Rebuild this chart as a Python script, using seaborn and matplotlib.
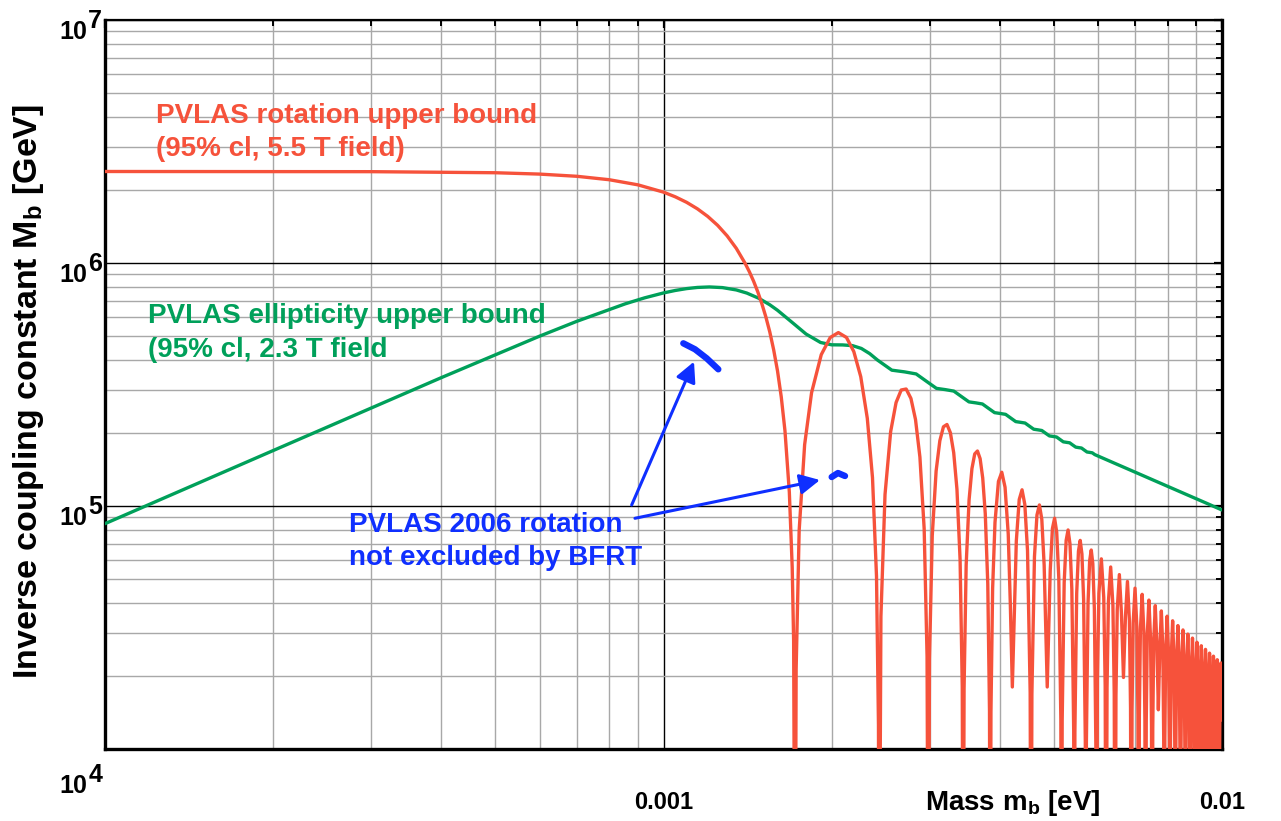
import numpy as np
import matplotlib
matplotlib.use("Agg")
import matplotlib.pyplot as plt
from matplotlib.ticker import LogLocator, NullFormatter, FixedLocator
import seaborn as sns

# ---------------- data ----------------
# PVLAS rotation upper bound (red): mass [eV], coupling [GeV]; 1e3 marks the zeros (below axis)
rot_mass = [
    1.0e-4, 3.0e-4, 5.0e-4, 6.0e-4, 7.0e-4, 8.0e-4, 9.0e-4, 1.0e-3, 1.05e-3, 1.1e-3, 1.15e-3,
    1.2e-3, 1.25e-3, 1.3e-3, 1.35e-3, 1.4e-3, 1.425e-3, 1.45e-3, 1.475e-3, 1.5e-3, 1.525e-3,
    1.55e-3, 1.575e-3, 1.6e-3, 1.625e-3, 1.65e-3, 1.68e-3, 1.70e-3, 1.71e-3, 1.72e-3,
    1.7278e-3, 1.7494e-3, 1.7894e-3, 1.8412e-3, 1.9164e-3, 1.9887e-3, 2.0563e-3, 2.1261e-3,
    2.1915e-3, 2.2551e-3, 2.3168e-3, 2.3671e-3, 2.4065e-3, 2.4260e-3, 2.4324e-3,
    2.4507e-3, 2.4925e-3, 2.5511e-3, 2.6086e-3, 2.6646e-3, 2.7195e-3, 2.7735e-3, 2.8263e-3,
    2.8781e-3, 2.9290e-3, 2.9642e-3, 2.9792e-3,
    2.9940e-3, 3.0284e-3, 3.0769e-3, 3.1246e-3, 3.1715e-3, 3.2178e-3, 3.2635e-3, 3.3084e-3,
    3.3530e-3, 3.3967e-3, 3.4271e-3, 3.4400e-3,
    3.4529e-3, 3.4827e-3, 3.5250e-3, 3.5666e-3, 3.6079e-3, 3.6486e-3, 3.6891e-3, 3.7288e-3,
    3.7683e-3, 3.8074e-3, 3.8344e-3, 3.8460e-3,
    3.8576e-3, 3.8843e-3, 3.9223e-3, 3.9784e-3, 4.0337e-3, 4.0884e-3, 4.1423e-3, 4.1779e-3,
    4.2131e-3,
    4.2828e-3, 4.3343e-3, 4.3851e-3, 4.4355e-3, 4.4852e-3, 4.5344e-3, 4.5508e-3,
    4.5669e-3, 4.6153e-3, 4.6631e-3, 4.7104e-3, 4.7573e-3, 4.8036e-3, 4.8649e-3,
    4.9254e-3, 4.9702e-3, 5.0147e-3, 5.0587e-3, 5.1024e-3, 5.1457e-3, 5.1600e-3,
    5.1743e-3, 5.2171e-3, 5.2594e-3, 5.3014e-3, 5.3431e-3, 5.3845e-3, 5.4256e-3, 5.4391e-3,
    5.4527e-3, 5.4932e-3, 5.5335e-3, 5.5735e-3, 5.6131e-3, 5.6524e-3, 5.6917e-3, 5.7046e-3,
    5.7176e-3, 5.7562e-3, 5.7947e-3, 5.8329e-3, 5.8707e-3, 5.9084e-3, 5.9459e-3, 5.9583e-3,
    5.9830e-3, 6.0200e-3, 6.0811e-3, 6.1416e-3, 6.1777e-3, 6.2016e-3,
    6.2254e-3, 6.2609e-3, 6.3196e-3, 6.3779e-3, 6.4127e-3, 6.4357e-3,
    6.4586e-3, 6.4929e-3, 6.5496e-3, 6.6058e-3, 6.6615e-3,
    6.7168e-3, 6.7717e-3, 6.8260e-3, 6.8585e-3, 6.8800e-3,
    6.9015e-3, 6.9335e-3, 6.9867e-3, 7.0394e-3, 7.0709e-3, 7.0917e-3,
    7.1125e-3, 7.1437e-3, 7.1953e-3, 7.2465e-3, 7.2770e-3, 7.2973e-3,
    7.3176e-3, 7.3478e-3, 7.3980e-3, 7.4478e-3, 7.4775e-3, 7.4973e-3,
    7.5171e-3, 7.5465e-3, 7.5953e-3, 7.6439e-3, 7.6920e-3,
    7.7400e-3, 7.7876e-3, 7.8350e-3, 7.8633e-3, 7.8821e-3,
    7.9008e-3, 7.9288e-3, 7.9753e-3, 8.0216e-3, 8.0491e-3, 8.0675e-3,
    8.0859e-3, 8.1132e-3, 8.1586e-3, 8.2039e-3, 8.2309e-3, 8.2488e-3,
    8.2667e-3, 8.2936e-3, 8.3380e-3, 8.3823e-3, 8.4087e-3, 8.4263e-3,
    8.4438e-3, 8.4700e-3, 8.5135e-3, 8.5569e-3, 8.5828e-3, 8.6000e-3,
    8.6172e-3, 8.6429e-3, 8.6857e-3, 8.7281e-3, 8.7534e-3, 8.7703e-3,
    8.7871e-3, 8.8124e-3, 8.8542e-3, 8.8959e-3, 8.9208e-3, 8.9375e-3,
    8.9540e-3, 8.9787e-3, 9.0197e-3, 9.0607e-3, 9.0850e-3, 9.1014e-3,
    9.1175e-3, 9.1419e-3, 9.1822e-3, 9.2225e-3, 9.2465e-3, 9.2625e-3,
    9.2784e-3, 9.3023e-3, 9.3420e-3, 9.3815e-3, 9.4051e-3, 9.4208e-3,
    9.4364e-3, 9.4600e-3, 9.4990e-3, 9.5379e-3, 9.5611e-3, 9.5766e-3,
    9.5919e-3, 9.6151e-3, 9.6535e-3, 9.6917e-3, 9.7146e-3, 9.7299e-3,
    9.7450e-3, 9.7677e-3, 9.8055e-3, 9.8432e-3, 9.8657e-3, 9.8807e-3,
    9.8957e-3, 9.9180e-3, 9.9552e-3, 9.9923e-3, 1.0e-2,
]
rot_coupling = [
    2.38e6, 2.376e6, 2.352e6, 2.322e6, 2.274e6, 2.201e6, 2.097e6, 1.957e6, 1.872e6, 1.777e6, 1.671e6,
    1.555e6, 1.429e6, 1.293e6, 1.149e6, 9.97e5, 9.198e5, 8.41e5, 7.610e5, 6.80e5, 5.999e5,
    5.20e5, 4.390e5, 3.60e5, 2.810e5, 2.04e5, 1.14e5, 5.6e4, 2.79e4, 1e3,
    2.13e4, 7.92e4, 1.789e5, 2.925e5, 4.197e5, 4.937e5, 5.172e5, 4.939e5,
    4.32e5, 3.406e5, 2.297e5, 1.308e5, 5.14e4, 1.26e4, 1e3,
    3.51e4, 1.115e5, 2.024e5, 2.665e5, 3.002e5, 3.030e5, 2.771e5, 2.270e5,
    1.590e5, 8.07e4, 2.40e4, 1e3,
    2.353e4, 7.55e4, 1.392e5, 1.857e5, 2.119e5, 2.165e5, 2.002e5, 1.657e5,
    1.172e5, 6.00e4, 1.80e4, 1e3,
    1.769e4, 5.71e4, 1.060e5, 1.425e5, 1.638e5, 1.684e5, 1.566e5, 1.304e5,
    9.28e4, 4.78e4, 1.434e4, 1e3,
    1.417e4, 4.59e4, 8.56e4, 1.262e5, 1.377e5, 1.195e5, 7.68e4, 3.97e4,
    1.8e4,
    7.18e4, 1.063e5, 1.166e5, 1.015e5, 6.55e4, 1.705e4, 1e3,
    1.681e4, 6.18e4, 9.18e4, 1.010e5, 8.82e4, 5.71e4, 1.8e4,
    5.43e4, 8.08e4, 8.91e4, 7.80e4, 5.06e4, 1.324e4, 1e3,
    1.309e4, 4.84e4, 7.22e4, 7.97e4, 6.99e4, 4.54e4, 1.191e4, 1e3,
    1.179e4, 4.37e4, 6.52e4, 7.22e4, 6.34e4, 4.12e4, 1.082e4, 1e3,
    1.072e4, 3.98e4, 5.95e4, 6.59e4, 5.79e4, 3.77e4, 9.9e3, 1e3,
    1.935e4, 4.373e4, 6.06e4, 4.202e4, 1.815e4, 1e3,
    1.787e4, 4.043e4, 5.61e4, 3.896e4, 1.684e4, 1e3,
    1.660e4, 3.759e4, 5.22e4, 3.632e4, 1.97e4,
    3.513e4, 4.89e4, 3.401e4, 1.472e4, 1e3,
    1.454e4, 3.297e4, 4.59e4, 3.198e4, 1.385e4, 1e3,
    1.369e4, 3.106e4, 4.33e4, 3.018e4, 1.308e4, 1e3,
    1.293e4, 2.935e4, 4.10e4, 2.857e4, 1.239e4, 1e3,
    1.226e4, 2.783e4, 3.89e4, 2.712e4, 1.45e4,
    2.645e4, 3.70e4, 2.582e4, 1.120e4, 1e3,
    1.109e4, 2.521e4, 3.52e4, 2.463e4, 1.069e4, 1e3,
    1.059e4, 2.408e4, 3.37e4, 2.355e4, 1.022e4, 1e3,
    1.013e4, 2.304e4, 3.22e4, 2.256e4, 9.79e3, 1e3,
    9.71e3, 2.209e4, 3.09e4, 2.164e4, 9.40e3, 1e3,
    9.33e3, 2.122e4, 2.97e4, 2.080e4, 9.04e3, 1e3,
    8.97e3, 2.041e4, 2.86e4, 2.003e4, 8.70e3, 1e3,
    8.64e3, 1.966e4, 2.75e4, 1.930e4, 8.39e3, 1e3,
    8.33e3, 1.896e4, 2.66e4, 1.863e4, 8.10e3, 1e3,
    8.04e3, 1.831e4, 2.57e4, 1.801e4, 7.83e3, 1e3,
    7.78e3, 1.771e4, 2.48e4, 1.742e4, 7.58e3, 1e3,
    7.53e3, 1.714e4, 2.41e4, 1.687e4, 7.34e3, 1e3,
    7.29e3, 1.661e4, 2.33e4, 1.636e4, 7.12e3, 1e3,
    7.07e3, 1.611e4, 2.26e4, 1.587e4, 1.318e4,
]

# PVLAS ellipticity upper bound (green)
ell_mass = [
    1.0e-4, 2.0e-4, 4.0e-4, 6.0e-4, 7.0e-4, 8.5446e-4, 9.25e-4, 1.0e-3, 1.05e-3, 1.1e-3,
    1.15e-3, 1.2084e-3, 1.275e-3, 1.35e-3, 1.41e-3, 1.48e-3, 1.55e-3, 1.6e-3, 1.7089e-3,
    1.8e-3, 1.9106e-3, 2.0e-3, 2.0930e-3, 2.18e-3, 2.2607e-3, 2.34e-3, 2.4168e-3, 2.5634e-3,
    2.7021e-3, 2.8339e-3, 2.9599e-3, 3.0808e-3, 3.1971e-3, 3.3093e-3, 3.4178e-3, 3.5230e-3,
    3.6252e-3, 3.7245e-3, 3.8213e-3, 3.9156e-3, 4.0078e-3, 4.0979e-3, 4.1860e-3, 4.2723e-3,
    4.3569e-3, 4.4399e-3, 4.5214e-3, 4.6015e-3, 4.6801e-3, 4.7574e-3, 4.8336e-3, 4.9085e-3,
    4.9823e-3, 5.0551e-3, 5.1268e-3, 5.1975e-3, 5.2673e-3, 5.3361e-3, 5.4041e-3, 5.4712e-3,
    5.5375e-3, 5.6031e-3, 5.6679e-3, 5.7319e-3, 5.7953e-3, 5.8579e-3, 5.9199e-3, 6.3943e-3,
    6.8357e-3, 7.6425e-3, 8.5446e-3, 9.3601e-3, 1.0e-2,
]
ell_coupling = [
    8.459e4, 1.691e5, 3.374e5, 5.000e5, 5.758e5, 6.794e5, 7.187e5, 7.530e5, 7.710e5, 7.846e5,
    7.933e5, 7.970e5, 7.921e5, 7.747e5, 7.520e5, 7.165e5, 6.731e5, 6.390e5, 5.636e5,
    5.101e5, 4.709e5, 4.606e5, 4.601e5, 4.570e5, 4.450e5, 4.237e5, 3.985e5, 3.622e5,
    3.564e5, 3.495e5, 3.254e5, 3.049e5, 3.012e5, 2.971e5, 2.818e5, 2.682e5,
    2.657e5, 2.629e5, 2.520e5, 2.422e5, 2.403e5, 2.383e5, 2.301e5, 2.225e5,
    2.210e5, 2.195e5, 2.130e5, 2.070e5, 2.058e5, 2.045e5, 1.992e5, 1.943e5,
    1.933e5, 1.923e5, 1.879e5, 1.837e5, 1.828e5, 1.820e5, 1.782e5, 1.747e5,
    1.739e5, 1.732e5, 1.699e5, 1.668e5, 1.662e5, 1.655e5, 1.627e5, 1.506e5,
    1.409e5, 1.260e5, 1.127e5, 1.029e5, 9.63e4,
]

# PVLAS 2006 rotation regions not excluded by BFRT (blue)
blue_arc1_mass = [1.0851e-3, 1.1387e-3, 1.1948e-3, 1.2535e-3]
blue_arc1_coupling = [4.672e5, 4.415e5, 4.053e5, 3.652e5]
blue_arc2_mass = [2.0005e-3, 2.0531e-3, 2.1133e-3]
blue_arc2_coupling = [1.316e5, 1.367e5, 1.329e5]

x_ticks = [1e-4, 1e-3, 1e-2]
x_tick_labels = ["", "0.001", "0.01"]
y_ticks = [1e4, 1e5, 1e6, 1e7]
y_tick_exponents = ["4", "5", "6", "7"]

RED = "#F6523B"
GREEN = "#00A05A"
BLUE = "#0F2FFF"

# ---------------- style ----------------
sns.set_theme(style="white")
plt.rcParams["font.family"] = ["Liberation Sans", "DejaVu Sans"]
plt.rcParams["font.weight"] = "bold"
plt.rcParams["mathtext.fontset"] = "custom"
plt.rcParams["mathtext.bf"] = "Liberation Sans:bold"
plt.rcParams["mathtext.rm"] = "Liberation Sans:bold"
plt.rcParams["mathtext.it"] = "Liberation Sans:bold"

W, H = 1281, 821
fig = plt.figure(figsize=(W / 100, H / 100), dpi=100)
ax = fig.add_axes([105 / W, 72 / H, 1117 / W, 729 / H])
ax.set_xscale("log")
ax.set_yscale("log")

sns.lineplot(x=ell_mass, y=ell_coupling, sort=False, estimator=None, color=GREEN,
             lw=2.4, ax=ax, zorder=3)
sns.lineplot(x=rot_mass, y=rot_coupling, sort=False, estimator=None, color=RED,
             lw=2.4, ax=ax, zorder=4)
sns.lineplot(x=blue_arc1_mass, y=blue_arc1_coupling, sort=False, estimator=None, color=BLUE,
             lw=4.6, ax=ax, zorder=5)
sns.lineplot(x=blue_arc2_mass, y=blue_arc2_coupling, sort=False, estimator=None, color=BLUE,
             lw=4.6, ax=ax, zorder=5)

ax.set_xlim(1e-4, 1e-2)
ax.set_ylim(1e4, 1e7)

# ticks
ax.xaxis.set_major_locator(FixedLocator(x_ticks))
ax.set_xticklabels(x_tick_labels)
ax.yaxis.set_major_locator(FixedLocator(y_ticks))
ax.set_yticklabels([""] * len(y_ticks))
ax.xaxis.set_minor_locator(LogLocator(base=10, subs=np.arange(2, 10)))
ax.yaxis.set_minor_locator(LogLocator(base=10, subs=np.arange(2, 10)))
ax.xaxis.set_minor_formatter(NullFormatter())
ax.yaxis.set_minor_formatter(NullFormatter())
ax.tick_params(which="both", direction="in", top=True, right=True, color="black")
ax.tick_params(which="major", length=6, width=1.6)
ax.tick_params(which="minor", length=4, width=1.4)
ax.tick_params(axis="x", which="major", labelsize=17, pad=30, labelcolor="black")

ax.set_axisbelow(True)
ax.grid(True, which="major", color="black", lw=1.0)
ax.grid(True, which="minor", color="#a8a8a8", lw=1.0)

for side in ["left", "bottom", "right"]:
    ax.spines[side].set_linewidth(2.4)
    ax.spines[side].set_color("black")
ax.spines["top"].set_linewidth(1.6)
ax.spines["top"].set_color("black")

# y tick labels (10 with full-size raised exponent)
for val, ex in zip(y_ticks, y_tick_exponents):
    extra = -18 if val == y_ticks[0] else 0
    ax.annotate("10", xy=(0, val), xycoords=("axes fraction", "data"),
                xytext=(-12.5, -14 + extra), textcoords="offset points",
                ha="right", va="baseline", fontsize=18, fontweight="bold", color="black",
                annotation_clip=False)
    ax.annotate(ex, xy=(0, val), xycoords=("axes fraction", "data"),
                xytext=(-12.0, -6 + extra), textcoords="offset points",
                ha="left", va="baseline", fontsize=18, fontweight="bold", color="black",
                annotation_clip=False)

def fx(px):
    return px / W

def fy(py):
    return 1 - py / H

# axis labels
fig.text(fx(925), fy(810), r"Mass $\mathbf{m_b}$ [eV]", fontsize=20, fontweight="bold",
         ha="left", va="baseline", color="black")
fig.text(fx(29), fy(392), r"Inverse coupling constant $\mathbf{M_b}$ [GeV]", rotation=90,
         fontsize=24.5, fontweight="bold", ha="center", va="center", color="black")

# annotations
fig.text(fx(156), fy(123), "PVLAS rotation upper bound", color=RED, fontsize=20,
         fontweight="bold", ha="left", va="baseline")
fig.text(fx(156), fy(156), "(95% cl, 5.5 T field)", color=RED, fontsize=20,
         fontweight="bold", ha="left", va="baseline")
fig.text(fx(148), fy(323), "PVLAS ellipticity upper bound", color=GREEN, fontsize=20,
         fontweight="bold", ha="left", va="baseline")
fig.text(fx(148), fy(357), "(95% cl, 2.3 T field", color=GREEN, fontsize=20,
         fontweight="bold", ha="left", va="baseline")
fig.text(fx(349), fy(532), "PVLAS 2006 rotation", color=BLUE, fontsize=20,
         fontweight="bold", ha="left", va="baseline")
fig.text(fx(349), fy(565), "not excluded by BFRT", color=BLUE, fontsize=20,
         fontweight="bold", ha="left", va="baseline")

arrow_style = dict(arrowstyle="-|>,head_length=0.55,head_width=0.28", color=BLUE, lw=2.2,
                   mutation_scale=22, shrinkA=0, shrinkB=0)
ax.annotate("", xy=(1.134e-3, 3.926e5), xytext=(8.77e-4, 1.0095e5), arrowprops=arrow_style,
            zorder=6)
ax.annotate("", xy=(1.906e-3, 1.279e5), xytext=(8.89e-4, 8.90e4), arrowprops=arrow_style,
            zorder=6)

fig.savefig("out.png", dpi=100)
